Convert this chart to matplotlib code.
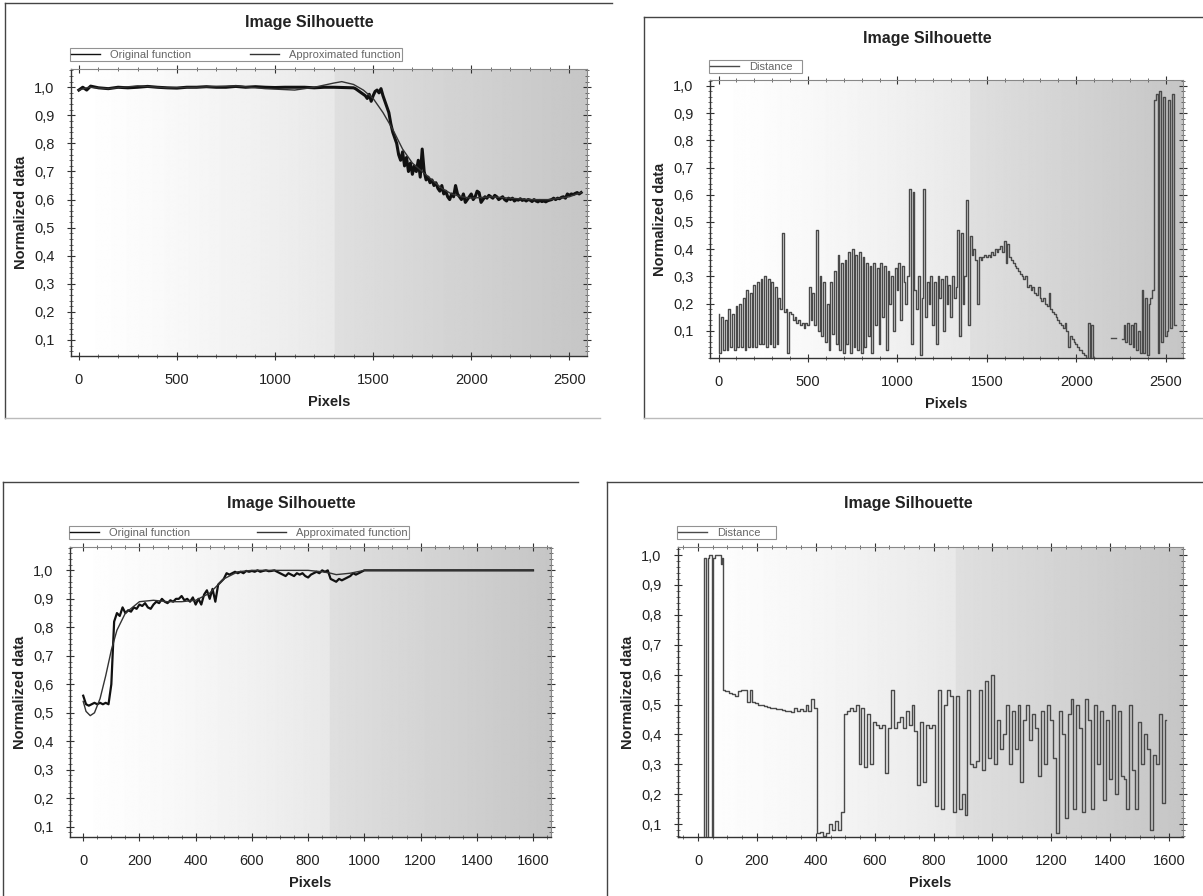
import numpy as np
import matplotlib
matplotlib.use("Agg")
import matplotlib.pyplot as plt
from matplotlib.ticker import MultipleLocator, FuncFormatter
from matplotlib.lines import Line2D

plt.rcParams['font.family'] = ['Liberation Sans', 'DejaVu Sans']

# ---------------- data ----------------
# Top-left: original and approximated silhouette (image 1)
tl_orig_x = [0, 20, 40, 60, 100, 150, 200, 250, 300, 350, 400, 450, 500, 550, 600, 650, 700,
             750, 800, 850, 900, 950, 1000, 1050, 1100, 1150, 1200, 1250, 1300, 1350] + \
            list(range(1400, 2570, 10))
tl_orig_y = [0.99, 1.0, 0.99, 1.004, 0.998, 0.995, 1.0, 0.998, 1.0, 1.003, 1.0, 0.998, 0.997, 1.0, 1.0,
             1.002, 1.0, 1.0, 1.003, 1.0, 1.002, 1.0, 0.999, 1.0, 1.0, 1.0, 0.998, 1.0, 1.0, 0.999] + [
    0.998, 0.995, 0.99, 0.985, 0.98, 0.975, 0.97, 0.96, 0.975, 0.95,
    0.97, 0.985, 0.99, 0.98, 0.995, 0.97, 0.95, 0.93, 0.91, 0.87,
    0.84, 0.82, 0.80, 0.76, 0.74, 0.77, 0.72, 0.75, 0.70, 0.73,
    0.69, 0.72, 0.70, 0.74, 0.68, 0.78, 0.70, 0.67, 0.68, 0.66,
    0.67, 0.65, 0.66, 0.64, 0.63, 0.65, 0.62, 0.63, 0.61, 0.60,
    0.62, 0.61, 0.65, 0.62, 0.61, 0.60, 0.62, 0.59, 0.60, 0.61,
    0.62, 0.60, 0.61, 0.63, 0.625, 0.59, 0.60, 0.61, 0.605, 0.615,
    0.61, 0.605, 0.615, 0.61, 0.60, 0.605, 0.61, 0.60, 0.595, 0.605,
    0.60, 0.605, 0.595, 0.60, 0.598, 0.603, 0.597, 0.60, 0.595, 0.60,
    0.598, 0.593, 0.60, 0.595, 0.592, 0.597, 0.593, 0.595, 0.592, 0.596,
    0.598, 0.60, 0.605, 0.60, 0.605, 0.603, 0.608, 0.61, 0.605, 0.62,
    0.615, 0.62, 0.618, 0.622, 0.625, 0.62, 0.625]

tl_appr_x = [0, 50, 150, 300, 450, 600, 800, 950, 1100, 1200, 1300, 1340, 1400, 1450, 1500, 1550,
             1600, 1650, 1700, 1750, 1800, 1850, 1900, 1950, 2000, 2100, 2200, 2300, 2400, 2500, 2560]
tl_appr_y = [0.99, 1.0, 0.995, 1.005, 0.998, 1.0, 1.005, 0.995, 0.99, 1.0, 1.015, 1.02, 1.01, 0.99,
             0.96, 0.91, 0.85, 0.78, 0.73, 0.70, 0.67, 0.64, 0.62, 0.61, 0.605, 0.61, 0.605, 0.60,
             0.60, 0.61, 0.625]

# Top-right: distance (image 1)
tr_dist_x = list(range(0, 2570, 10))
tr_dist_y = [
    0.16, 0.02, 0.15, 0.03, 0.14, 0.03, 0.18, 0.04, 0.16, 0.03,
    0.19, 0.04, 0.20, 0.04, 0.22, 0.03, 0.25, 0.04, 0.24, 0.04,
    0.27, 0.04, 0.28, 0.05, 0.29, 0.05, 0.30, 0.04, 0.29, 0.05,
    0.28, 0.04, 0.26, 0.05, 0.22, 0.18, 0.46, 0.17, 0.18, 0.02,
    0.17, 0.16, 0.14, 0.15, 0.13, 0.14, 0.12, 0.13, 0.11, 0.13,
    0.12, 0.26, 0.14, 0.24, 0.12, 0.47, 0.10, 0.30, 0.08, 0.28,
    0.06, 0.20, 0.03, 0.28, 0.09, 0.32, 0.05, 0.38, 0.03, 0.35,
    0.02, 0.36, 0.05, 0.39, 0.02, 0.40, 0.04, 0.38, 0.03, 0.39,
    0.02, 0.37, 0.04, 0.35, 0.08, 0.34, 0.02, 0.35, 0.12, 0.33,
    0.05, 0.35, 0.15, 0.34, 0.03, 0.32, 0.20, 0.30, 0.10, 0.33,
    0.25, 0.35, 0.14, 0.34, 0.28, 0.20, 0.30, 0.62, 0.05, 0.61,
    0.25, 0.18, 0.30, 0.01, 0.22, 0.62, 0.15, 0.28, 0.20, 0.30,
    0.12, 0.28, 0.05, 0.30, 0.22, 0.29, 0.10, 0.30, 0.20, 0.27,
    0.15, 0.30, 0.22, 0.26, 0.47, 0.08, 0.46, 0.20, 0.30, 0.58,
    0.12, 0.45, 0.38, 0.40, 0.36, 0.20, 0.37, 0.36, 0.37, 0.38,
    0.37, 0.38, 0.37, 0.39, 0.38, 0.40, 0.39, 0.40, 0.41, 0.39,
    0.43, 0.35, 0.42, 0.37, 0.36, 0.35, 0.34, 0.33, 0.32, 0.31,
    0.30, 0.29, 0.30, 0.26, 0.27, 0.25, 0.26, 0.24, 0.23, 0.26,
    0.22, 0.21, 0.22, 0.20, 0.19, 0.24, 0.18, 0.17, 0.16, 0.15,
    0.14, 0.13, 0.12, 0.11, 0.13, 0.10, 0.04, 0.08, 0.07, 0.06,
    0.05, 0.04, 0.03, 0.03, 0.02, 0.01, 0.00, 0.13, 0.00, 0.12,
    0.00, np.nan, np.nan, np.nan, np.nan, np.nan, np.nan, np.nan, np.nan, np.nan,
    0.075, 0.075, 0.075, np.nan, np.nan, np.nan, 0.07, 0.12, 0.06, 0.13,
    0.05, 0.12, 0.04, 0.13, 0.03, 0.10, 0.02, 0.25, 0.02, 0.22,
    0.01, 0.20, 0.22, 0.25, 0.95, 0.97, 0.02, 0.98, 0.06, 0.96,
    0.08, 0.10, 0.95, 0.11, 0.97, 0.12, 0.12]

# Bottom-left: original and approximated silhouette (image 2)
bl_orig_x = list(range(0, 1010, 10)) + [1100, 1300, 1600]
bl_orig_y = [
    0.56, 0.53, 0.525, 0.53, 0.535, 0.53, 0.535, 0.53, 0.535, 0.53,
    0.60, 0.82, 0.85, 0.84, 0.87, 0.85, 0.86, 0.855, 0.87, 0.865,
    0.88, 0.875, 0.885, 0.87, 0.865, 0.88, 0.89, 0.885, 0.90, 0.89,
    0.885, 0.895, 0.89, 0.90, 0.90, 0.91, 0.895, 0.90, 0.89, 0.905,
    0.88, 0.90, 0.88, 0.915, 0.93, 0.90, 0.935, 0.89, 0.95, 0.96,
    0.97, 0.99, 0.985, 0.99, 0.995, 0.99, 0.995, 0.99, 0.998, 0.995,
    0.998, 0.995, 1.0, 0.995, 0.998, 1.0, 0.997, 0.998, 1.0, 0.995,
    0.99, 0.985, 0.98, 0.99, 0.985, 0.98, 0.99, 0.985, 0.99, 0.98,
    0.975, 0.985, 0.99, 0.995, 0.99, 1.0, 0.995, 1.0, 0.97, 0.965,
    0.96, 0.97, 0.965, 0.97, 0.975, 0.98, 0.99, 0.985, 0.99, 0.995,
    1.0, 1.0, 1.0, 1.0]
bl_appr_x = [0, 10, 25, 40, 60, 80, 100, 120, 150, 200, 250, 300, 350, 400, 450, 500, 550, 600,
             700, 800, 850, 880, 900, 950, 1000, 1600]
bl_appr_y = [0.54, 0.505, 0.49, 0.50, 0.55, 0.63, 0.72, 0.79, 0.85, 0.89, 0.895, 0.89, 0.89,
             0.895, 0.92, 0.97, 0.995, 1.0, 1.0, 1.0, 0.995, 0.99, 0.985, 0.99, 1.0, 1.0]

# Bottom-right: distance (image 2)
br_dist_x = [15, 20, 22, 27, 28, 33, 35, 40, 45, 47, 50, 52, 60, 70, 78, 80, 82, 85, 95] + \
            list(range(100, 1600, 10))
br_dist_y = [0.05, 0.05, 0.99, 0.99, 0.05, 0.05, 0.99, 1.0, 1.0, 0.05, 0.05, 0.99, 1.0, 1.0,
             1.0, 0.97, 0.99, 0.55, 0.545] + [
    0.545, 0.54, 0.535, 0.53, 0.545, 0.55, 0.55, 0.51, 0.55, 0.51,
    0.505, 0.50, 0.498, 0.495, 0.492, 0.49, 0.488, 0.486, 0.484, 0.482,
    0.48, 0.478, 0.476, 0.49, 0.48, 0.485, 0.478, 0.50, 0.48, 0.52,
    0.49, 0.07, 0.075, 0.06, 0.07, 0.10, 0.08, 0.11, 0.08, 0.14,
    0.47, 0.48, 0.49, 0.48, 0.50, 0.30, 0.49, 0.29, 0.47, 0.30,
    0.44, 0.43, 0.42, 0.43, 0.27, 0.42, 0.55, 0.42, 0.44, 0.46,
    0.42, 0.48, 0.43, 0.50, 0.41, 0.23, 0.44, 0.24, 0.43, 0.42,
    0.43, 0.16, 0.55, 0.15, 0.50, 0.55, 0.53, 0.14, 0.53, 0.15,
    0.20, 0.13, 0.55, 0.30, 0.29, 0.31, 0.55, 0.28, 0.58, 0.32,
    0.60, 0.30, 0.45, 0.35, 0.40, 0.50, 0.30, 0.48, 0.35, 0.50,
    0.24, 0.45, 0.50, 0.38, 0.47, 0.42, 0.26, 0.48, 0.30, 0.50,
    0.45, 0.32, 0.07, 0.48, 0.40, 0.12, 0.47, 0.52, 0.15, 0.50,
    0.42, 0.14, 0.52, 0.45, 0.15, 0.50, 0.30, 0.48, 0.18, 0.45,
    0.25, 0.50, 0.20, 0.48, 0.26, 0.25, 0.15, 0.50, 0.28, 0.15,
    0.44, 0.30, 0.40, 0.35, 0.08, 0.33, 0.30, 0.47, 0.17, 0.45]

title_text = "Image Silhouette"
xlabel_text = "Pixels"
ylabel_text = "Normalized data"
legend_two = ["Original function", "Approximated function"]
legend_one = ["Distance"]

# ---------------- figure ----------------
W, H = 1203, 896
fig = plt.figure(figsize=(W / 100, H / 100), dpi=100)
fig.patch.set_facecolor('white')


def fx(px):
    return px / W


def fy(py):
    return 1 - py / H


def rect_axes(l, t, r, b):
    return fig.add_axes([fx(l), fy(b), fx(r) - fx(l), fy(t) - fy(b)])


def gradient(ax, seam=0.53):
    xs = np.linspace(0, 1, 600)
    left = 1.0 - 0.09 * (xs / seam) ** 1.3
    right = 0.875 - 0.10 * ((xs - seam) / (1 - seam))
    row = np.where(xs < seam, left, right)
    img = np.tile(row, (40, 1))
    ax.imshow(img, extent=[0, 1, 0, 1], transform=ax.transAxes, aspect='auto',
              cmap='gray', vmin=0, vmax=1, zorder=0, interpolation='bilinear')


def comma(v, pos):
    return ("%.1f" % v).replace('.', ',')


def style(ax, xlim, ylim, xmaj, xmin):
    ax.set_xlim(*xlim)
    ax.set_ylim(*ylim)
    ax.xaxis.set_major_locator(MultipleLocator(xmaj))
    ax.xaxis.set_minor_locator(MultipleLocator(xmin))
    ax.set_yticks([0.1 * i for i in range(1, 11)])
    ax.yaxis.set_minor_locator(MultipleLocator(0.02))
    ax.yaxis.set_major_formatter(FuncFormatter(comma))
    ax.tick_params(axis='both', which='major', direction='inout', length=6, width=0.8,
                   labelsize=10.5, colors='#333333', labelcolor='#222222',
                   top=True, right=True)
    ax.tick_params(axis='x', which='major', pad=9)
    ax.tick_params(axis='y', which='major', pad=9)
    ax.tick_params(axis='both', which='minor', direction='inout', length=3, width=0.6,
                   colors='#555555', top=True, right=True)
    for s in ['left', 'bottom']:
        ax.spines[s].set_color('#333333')
        ax.spines[s].set_linewidth(1.0)
    for s in ['top', 'right']:
        ax.spines[s].set_color('#888888')
        ax.spines[s].set_linewidth(0.8)
    ax.set_xlabel(xlabel_text, fontsize=10.5, fontweight='bold', color='#222222', labelpad=6)
    ax.set_ylabel(ylabel_text, fontsize=10.5, fontweight='bold', color='#222222', labelpad=4)


def legend(ax, handles, labels, box, ncol):
    l, t, r, b = box
    leg = fig.legend(handles, labels, loc='lower left', ncol=ncol, mode='expand',
                     bbox_to_anchor=(fx(l), fy(b), fx(r) - fx(l), fy(t) - fy(b)),
                     bbox_transform=fig.transFigure, fontsize=8, frameon=True,
                     fancybox=False, borderpad=0.12, handlelength=2.6,
                     handletextpad=0.9, borderaxespad=0, labelcolor='#666666')
    leg.get_frame().set_edgecolor('#777777')
    leg.get_frame().set_linewidth(0.8)
    for h in leg.get_lines():
        h.set_linewidth(1.0)
    return leg


def frame_lines(segs, color='#444444', lw=1.0):
    for (x0, y0, x1, y1) in segs:
        fig.add_artist(Line2D([fx(x0), fx(x1)], [fy(y0), fy(y1)], color=color, lw=lw,
                              transform=fig.transFigure))


# panel frames
frame_lines([(5, 3, 612, 3), (5, 3, 5, 418)])
frame_lines([(5, 418, 600, 418)], color='#bbbbbb')
frame_lines([(644, 17, 1203, 17), (644, 17, 644, 418)])
frame_lines([(644, 418, 1203, 418)], color='#bbbbbb')
frame_lines([(3, 482, 578, 482), (3, 482, 3, 896)])
frame_lines([(607, 482, 1203, 482), (607, 482, 607, 896)])

TITLE_KW = dict(ha='center', va='center', fontsize=11.5, fontweight='bold', color='#222222')

# ---- top-left ----
ax1 = rect_axes(71, 69, 587, 356)
gradient(ax1, seam=0.51)
l1, = ax1.plot(tl_orig_x, tl_orig_y, color='#111111', lw=2.2, zorder=3)
l2, = ax1.plot(tl_appr_x, tl_appr_y, color='#333333', lw=1.0, zorder=4)
style(ax1, (-40, 2590), (0.043, 1.065), 500, 100)
fig.text(fx(309), fy(22), title_text, **TITLE_KW)
legend(ax1, [l1, l2], legend_two, (70, 46, 402, 61), 2)

# ---- top-right ----
ax2 = rect_axes(710, 80, 1183, 358)
gradient(ax2, seam=0.55)
d1, = ax2.plot(tr_dist_x, tr_dist_y, color='#4a4a4a', lw=1.0, zorder=3, drawstyle='steps-mid')
style(ax2, (-48, 2597), (0.0, 1.022), 500, 100)
fig.text(fx(927), fy(38), title_text, **TITLE_KW)
legend(ax2, [d1], legend_one, (709, 58, 802, 73), 1)

# ---- bottom-left ----
ax3 = rect_axes(70, 547, 551, 837)
gradient(ax3, seam=0.54)
m1, = ax3.plot(bl_orig_x, bl_orig_y, color='#111111', lw=1.6, zorder=3)
m2, = ax3.plot(bl_appr_x, bl_appr_y, color='#333333', lw=1.0, zorder=4)
style(ax3, (-47, 1664), (0.064, 1.082), 200, 50)
fig.text(fx(291), fy(503), title_text, **TITLE_KW)
legend(ax3, [m1, m2], legend_two, (69, 525, 409, 539), 2)

# ---- bottom-right ----
ax4 = rect_axes(678, 547, 1183, 837)
gradient(ax4, seam=0.55)
d2, = ax4.plot(br_dist_x, br_dist_y, color='#4a4a4a', lw=1.0, zorder=3, drawstyle='steps-mid')
style(ax4, (-68, 1647), (0.057, 1.027), 200, 50)
fig.text(fx(908), fy(503), title_text, **TITLE_KW)
legend(ax4, [d2], legend_one, (677, 525, 776, 539), 1)

fig.savefig("out.png", dpi=100)
